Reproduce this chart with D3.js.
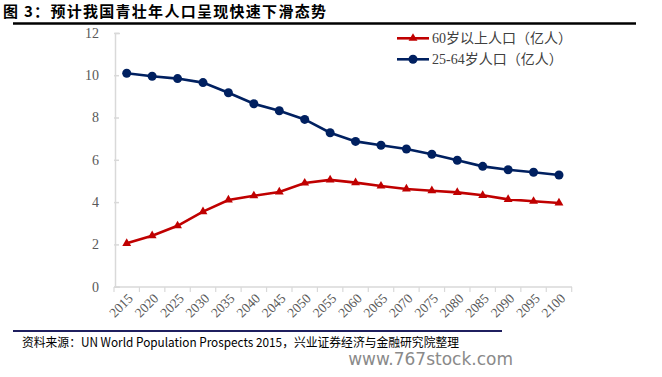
<!DOCTYPE html>
<html><head><meta charset="utf-8">
<script src="https://cdn.jsdelivr.net/npm/d3@7"></script>
<style>body{margin:0;background:#fff}svg{display:block}</style>
</head><body>
<svg id="c" width="662" height="377"></svg>
<script>
const years = ["2015","2020","2025","2030","2035","2040","2045","2050","2055","2060","2065","2070","2075","2080","2085","2090","2095","2100"];
const pop60 = [2.05,2.41,2.88,3.55,4.10,4.30,4.48,4.90,5.05,4.92,4.76,4.62,4.54,4.46,4.32,4.13,4.04,3.96];
const pop2564 = [10.09,9.95,9.84,9.65,9.17,8.65,8.32,7.91,7.28,6.87,6.69,6.51,6.26,5.98,5.69,5.53,5.41,5.28];
const yTicks = [0,2,4,6,8,10,12];
const seriesNames = ["60岁以上人口（亿人）","25-64岁人口（亿人）"];
const titleText = "图 3：预计我国青壮年人口呈现快速下滑态势";
const sourceText = "资料来源：UN World Population Prospects 2015，兴业证券经济与金融研究院整理";

const svg = d3.select("#c");
const serif = "'Liberation Serif','Times New Roman',serif";
const cjk = "'Noto Sans CJK SC','Noto Sans',sans-serif";

// title
svg.append("text").attr("x",3).attr("y",17).attr("font-family",cjk).attr("font-weight","bold")
  .attr("font-size",15).attr("fill","#000").attr("textLength",323).attr("lengthAdjust","spacing").text(titleText);
svg.append("line").attr("x1",13).attr("x2",636).attr("y1",23.5).attr("y2",23.5).attr("stroke","#000").attr("stroke-width",2.5);

const x = d3.scaleBand().domain(years).range([114,571.7]);
const y = d3.scaleLinear().domain([0,12]).range([286.7,32.9]);

// axes
const yAxis = svg.append("g").attr("transform","translate(115,0)")
  .call(d3.axisLeft(y).tickValues(yTicks).tickSize(-5).tickPadding(16).tickFormat(d3.format("d")));
yAxis.select(".domain").attr("stroke","#d9d9d9").attr("stroke-width",1.5);
yAxis.selectAll(".tick line").attr("stroke","#d9d9d9").attr("stroke-width",1.5).attr("x1",-1).attr("x2",4);
yAxis.selectAll("text").attr("font-family",serif).attr("font-size",14).attr("fill","#595959").attr("dx",0);

const xg = svg.append("g").attr("transform","translate(0,287)");
xg.append("line").attr("x1",114).attr("x2",572).attr("y1",0).attr("y2",0).attr("stroke","#d9d9d9").attr("stroke-width",1.5);
const bounds = years.map(d=>x(d)).concat([x.range()[1]]);
xg.selectAll("line.t").data(bounds).join("line").attr("class","t")
  .attr("x1",d=>d).attr("x2",d=>d).attr("y1",0).attr("y2",5).attr("stroke","#d9d9d9").attr("stroke-width",1.2);
xg.selectAll("text").data(years).join("text")
  .attr("transform",d=>`translate(${x(d)+x.bandwidth()/2+4},${9}) rotate(-45)`)
  .attr("text-anchor","end").attr("dominant-baseline","central")
  .attr("font-family",serif).attr("font-size",13.5).attr("fill","#595959").text(d=>d);

const cx = d=>x(d)+x.bandwidth()/2;
const line = d3.line().x((d,i)=>cx(years[i])).y(d=>y(d));

// blue series
svg.append("path").datum(pop2564).attr("d",line).attr("fill","none").attr("stroke","#002060").attr("stroke-width",2.6);
svg.selectAll("circle.b").data(pop2564).join("circle").attr("class","b")
  .attr("cx",(d,i)=>cx(years[i])).attr("cy",d=>y(d)).attr("r",4.5).attr("fill","#002060");

// red series
svg.append("path").datum(pop60).attr("d",line).attr("fill","none").attr("stroke","#C00000").attr("stroke-width",2.6);
const tri = d3.symbol().type(d3.symbolTriangle).size(34);
svg.selectAll("path.r").data(pop60).join("path").attr("class","r")
  .attr("transform",(d,i)=>`translate(${cx(years[i])},${y(d)})`).attr("d",tri()).attr("fill","#C00000");

// legend
const leg = [{name:seriesNames[0],c:"#C00000",s:"tri",y:38.3},{name:seriesNames[1],c:"#002060",s:"circ",y:59.3}];
leg.forEach(l=>{
  svg.append("line").attr("x1",397).attr("x2",429).attr("y1",l.y).attr("y2",l.y).attr("stroke",l.c).attr("stroke-width",2.6);
  if(l.s==="tri") svg.append("path").attr("transform",`translate(413,${l.y})`).attr("d",tri()).attr("fill",l.c);
  else svg.append("circle").attr("cx",413).attr("cy",l.y).attr("r",4.5).attr("fill",l.c);
  svg.append("text").attr("x",432).attr("y",l.y).attr("dominant-baseline","central")
    .attr("font-family",serif+",'Noto Sans CJK SC'").attr("font-size",14).attr("fill","#404040").text(l.name);
});

// source
svg.append("line").attr("x1",13).attr("x2",502).attr("y1",331).attr("y2",331).attr("stroke","#1f1f5f").attr("stroke-width",2);
svg.append("text").attr("x",22).attr("y",347).attr("font-family",cjk).attr("font-size",12.5).attr("fill","#000")
  .attr("textLength",437).attr("lengthAdjust","spacingAndGlyphs").text(sourceText);
svg.append("text").attr("x",513).attr("y",365).attr("text-anchor","end").attr("font-family","'DejaVu Sans',sans-serif")
  .attr("font-size",17).attr("fill","#8a8a8a").text("www.767stock.com");
</script>
</body></html>
